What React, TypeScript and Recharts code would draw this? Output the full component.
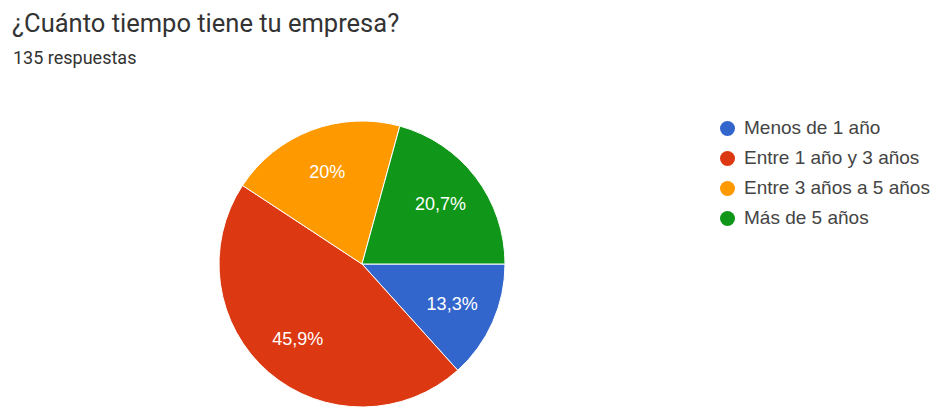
import { Legend, Pie, PieChart, Cell } from "recharts";

const categories = [
  "Menos de 1 año",
  "Entre 1 año y 3 años",
  "Entre 3 años a 5 años",
  "Más de 5 años"
];
const responses = [18, 62, 27, 28];
const sliceLabels = ["13,3%", "45,9%", "20%", "20,7%"];
const colors = ["#3366cc", "#dc3912", "#ff9900", "#109618"];

const data = categories.map((name, i) => ({
  name,
  value: responses[i],
  label: sliceLabels[i]
}));

const RADIAN = Math.PI / 180;
const TITLE_FONT = "Roboto, Arial, sans-serif";
const CHART_FONT = "'Liberation Sans', Arial, sans-serif";

function renderLabel(props: any) {
  const { cx, cy, midAngle, outerRadius, index } = props;
  const r = outerRadius * 0.69;
  const x = cx + r * Math.cos(-midAngle * RADIAN);
  const y = cy + r * Math.sin(-midAngle * RADIAN);
  return (
    <text
      x={x}
      y={y}
      fill="#ffffff"
      textAnchor="middle"
      dominantBaseline="central"
      fontSize={18}
      fontFamily={CHART_FONT}
    >
      {sliceLabels[index]}
    </text>
  );
}

function renderLegend() {
  return (
    <ul style={{ listStyle: "none", margin: 0, padding: 0, fontFamily: CHART_FONT }}>
      {categories.map((c, i) => (
        <li
          key={c}
          style={{ display: "flex", alignItems: "center", height: 30, fontSize: 19, color: "#444" }}
        >
          <span
            style={{
              width: 15,
              height: 15,
              borderRadius: "50%",
              background: colors[i],
              marginRight: 9,
              display: "inline-block"
            }}
          />
          {c}
        </li>
      ))}
    </ul>
  );
}

export default function App() {
  return (
    <div style={{ position: "absolute", left: 0, top: 0, width: 940, height: 407, background: "#fff" }}>
      <div
        style={{
          position: "absolute",
          left: 12,
          top: 8,
          fontFamily: TITLE_FONT,
          fontSize: 25.5,
          color: "#333",
          whiteSpace: "nowrap"
        }}
      >
        ¿Cuánto tiempo tiene tu empresa?
      </div>
      <div
        style={{
          position: "absolute",
          left: 13,
          top: 47,
          fontFamily: TITLE_FONT,
          fontSize: 18,
          color: "#333",
          whiteSpace: "nowrap"
        }}
      >
        135 respuestas
      </div>
      <PieChart
        width={940}
        height={407}
        margin={{ top: 0, right: 0, bottom: 0, left: 0 }}
        style={{ position: "absolute", left: 0, top: 0 }}
      >
        <Pie
          data={data}
          dataKey="value"
          nameKey="name"
          cx={362}
          cy={264}
          outerRadius={143}
          startAngle={0}
          endAngle={-360}
          stroke="#ffffff"
          strokeWidth={1}
          label={renderLabel}
          labelLine={false}
          isAnimationActive={false}
        >
          {data.map((d, i) => (
            <Cell key={d.name} fill={colors[i]} />
          ))}
        </Pie>
        <Legend
          layout="vertical"
          align="right"
          verticalAlign="top"
          content={renderLegend}
          wrapperStyle={{ left: 720, top: 113, width: 220 }}
        />
      </PieChart>
    </div>
  );
}
